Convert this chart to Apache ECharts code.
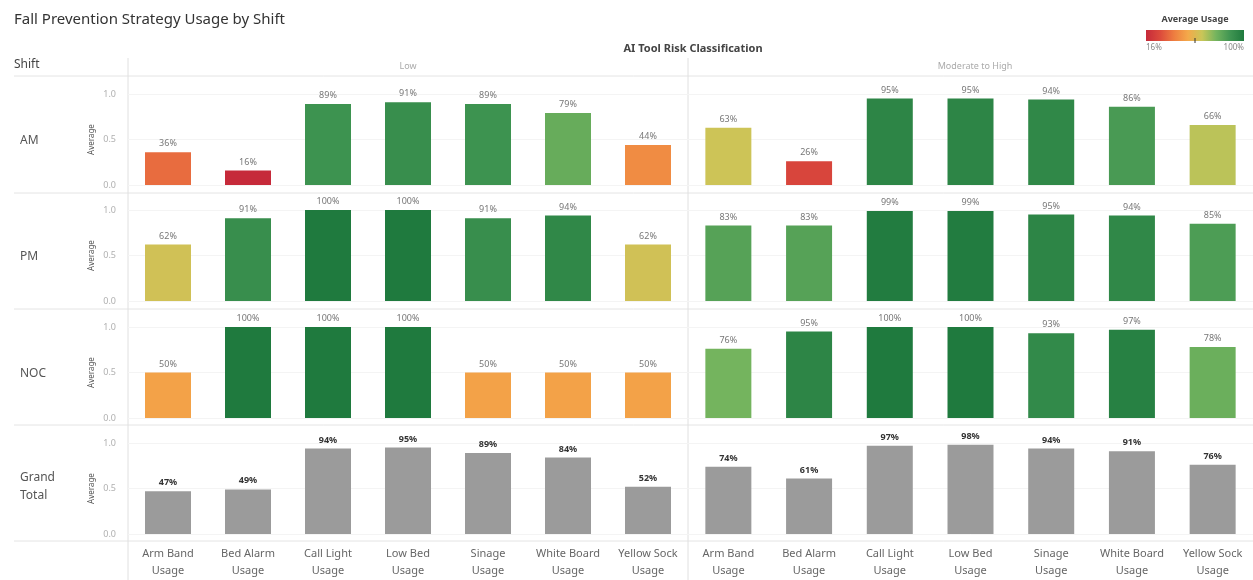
<!DOCTYPE html>
<html>
<head>
<meta charset="utf-8">
<script src="https://cdn.jsdelivr.net/npm/echarts@6/dist/echarts.min.js"></script>
<style>
  html, body { margin: 0; padding: 0; background: #fff; }
  #chart { width: 1253px; height: 580px; }
</style>
</head>
<body>
<div id="chart"></div>
<script>
var categories = ['Arm Band\nUsage', 'Bed Alarm\nUsage', 'Call Light\nUsage', 'Low Bed\nUsage',
    'Sinage\nUsage', 'White Board\nUsage', 'Yellow Sock\nUsage'];
var shifts = ['AM', 'PM', 'NOC', 'Grand\nTotal'];
var panels = ['Low', 'Moderate to High'];

// average usage per shift, Low | Moderate to High
var amLow = [0.36, 0.16, 0.89, 0.91, 0.89, 0.79, 0.44];
var amHigh = [0.63, 0.26, 0.95, 0.95, 0.94, 0.86, 0.66];
var pmLow = [0.62, 0.91, 1.00, 1.00, 0.91, 0.94, 0.62];
var pmHigh = [0.83, 0.83, 0.99, 0.99, 0.95, 0.94, 0.85];
var nocLow = [0.50, 1.00, 1.00, 1.00, 0.50, 0.50, 0.50];
var nocHigh = [0.76, 0.95, 1.00, 1.00, 0.93, 0.97, 0.78];
var totalLow = [0.47, 0.49, 0.94, 0.95, 0.89, 0.84, 0.52];
var totalHigh = [0.74, 0.61, 0.97, 0.98, 0.94, 0.91, 0.76];

var yTicks = ['0.0', '0.5', '1.0'];
var colorMin = 0.16, colorMax = 1.0;
var ramp = ['#c62a3a', '#dc4a3c', '#ee7d40', '#f4a94a', '#c9c658', '#74b45e', '#409552', '#1f7a3e'];

var rows = [[amLow, amHigh], [pmLow, pmHigh], [nocLow, nocHigh], [totalLow, totalHigh]];
var rowTop = [94, 210, 327, 443];
var rowH = 91;
var colLeft = [128, 688];
var colW = [560, 565];
var font = 'Noto Sans';

var grids = [], xAxes = [], yAxes = [], series = [];
rows.forEach(function (pair, r) {
    pair.forEach(function (vals, c) {
        var i = r * 2 + c;
        var isTotal = r === 3;
        grids.push({ left: colLeft[c], width: colW[c], top: rowTop[r], height: rowH });
        xAxes.push({
            type: 'category', gridIndex: i, data: categories,
            axisLine: { show: false }, axisTick: { show: false },
            axisLabel: {
                show: isTotal, color: '#666', fontSize: 11, lineHeight: 17,
                margin: 11, fontFamily: font, interval: 0
            }
        });
        yAxes.push({
            type: 'value', gridIndex: i, min: 0, max: 1, interval: 0.5,
            name: c === 0 ? 'Average' : '', nameLocation: 'middle', nameGap: 32, nameRotate: 90,
            nameTextStyle: { fontSize: 8, color: '#555', fontFamily: font },
            axisLine: { show: false }, axisTick: { show: false },
            axisLabel: {
                show: c === 0, color: '#b0b0b0', fontSize: 9, margin: 12, fontFamily: font,
                formatter: function (v) { return yTicks[Math.round(v * 2)]; }
            },
            splitLine: { show: true, lineStyle: { color: '#f4f4f4' } }
        });
        series.push({
            type: 'bar', name: shifts[r] + ' ' + panels[c],
            xAxisIndex: i, yAxisIndex: i, data: vals, barWidth: 46,
            itemStyle: isTotal ? { color: '#9b9b9b' } : {},
            label: {
                show: true, position: 'top', distance: 4, fontFamily: font,
                fontSize: 9, color: isTotal ? '#333' : '#777',
                fontWeight: isTotal ? 'bold' : 'normal',
                formatter: function (p) { return Math.round(p.value * 100) + '%'; }
            }
        });
    });
});

var graphics = [];
// header and row separators
[76, 193, 309, 425, 541].forEach(function (y) {
    graphics.push({ type: 'line', shape: { x1: 14, y1: y, x2: 1253, y2: y }, style: { stroke: '#e4e4e4', lineWidth: 1 } });
});
[128, 688].forEach(function (x) {
    graphics.push({ type: 'line', shape: { x1: x, y1: 58, x2: x, y2: 580 }, style: { stroke: '#e0e0e0', lineWidth: 1 } });
});
shifts.forEach(function (s, r) {
    graphics.push({
        type: 'text', left: 20, top: rowTop[r] + rowH / 2 - (r === 3 ? 20 : 8),
        style: { text: s, fontSize: 12, lineHeight: 18, fill: '#555', fontFamily: font }
    });
});
graphics.push(
    { type: 'text', left: 14, top: 12, style: { text: 'Fall Prevention Strategy Usage by Shift', fontSize: 15, fill: '#333', fontFamily: font } },
    { type: 'text', left: 14, top: 59, style: { text: 'Shift', fontSize: 12, fill: '#444', fontFamily: font } },
    { type: 'text', x: 693, y: 43, style: { text: 'AI Tool Risk Classification', fontSize: 11, fontWeight: 'bold', fill: '#444', fontFamily: font, align: 'center' } },
    { type: 'text', x: 408, y: 62, style: { text: panels[0], fontSize: 9, fill: '#aaa', fontFamily: font, align: 'center' } },
    { type: 'text', x: 975, y: 62, style: { text: panels[1], fontSize: 9, fill: '#aaa', fontFamily: font, align: 'center' } },
    // colour legend
    { type: 'text', x: 1195, y: 15, style: { text: 'Average Usage', fontSize: 9, fontWeight: 'bold', fill: '#444', fontFamily: font, align: 'center' } },
    {
        type: 'rect', shape: { x: 1146, y: 30, width: 98, height: 11 },
        style: {
            fill: new echarts.graphic.LinearGradient(0, 0, 1, 0, ramp.map(function (c, k) {
                return { offset: k / (ramp.length - 1), color: c };
            }))
        }
    },
    { type: 'line', shape: { x1: 1195, y1: 38, x2: 1195, y2: 43 }, style: { stroke: '#333', lineWidth: 1 } },
    { type: 'text', x: 1146, y: 44, style: { text: Math.round(colorMin * 100) + '%', fontSize: 8, fill: '#888', fontFamily: font } },
    { type: 'text', x: 1244, y: 44, style: { text: Math.round(colorMax * 100) + '%', fontSize: 8, fill: '#888', fontFamily: font, align: 'right' } }
);

var option = {
    backgroundColor: '#fff',
    animation: false,
    textStyle: { fontFamily: font },
    grid: grids,
    xAxis: xAxes,
    yAxis: yAxes,
    visualMap: {
        type: 'continuous', show: false, min: colorMin, max: colorMax,
        seriesIndex: [0, 1, 2, 3, 4, 5],
        inRange: { color: ramp }
    },
    series: series,
    graphic: graphics
};

var myChart = echarts.init(document.getElementById('chart'));
myChart.setOption(option, true);
</script>
</body>
</html>
